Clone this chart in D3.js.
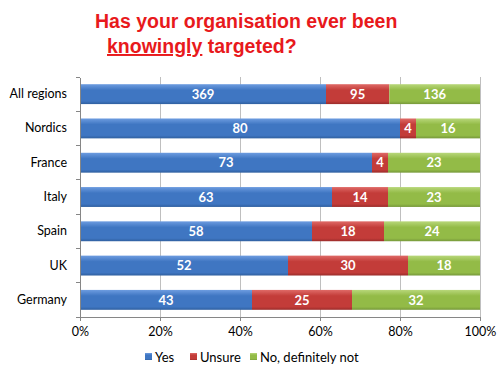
<!DOCTYPE html>
<html>
<head>
<meta charset="utf-8">
<script src="https://cdn.jsdelivr.net/npm/d3@7"></script>
<style>
  body { margin: 0; background: #fff; }
  svg { display: block; }
</style>
</head>
<body>
<div id="chart"></div>
<script>
var regions = ["All regions", "Nordics", "France", "Italy", "Spain", "UK", "Germany"];
var yesValues = [369, 80, 73, 63, 58, 52, 43];
var unsureValues = [95, 4, 4, 14, 18, 30, 25];
var noValues = [136, 16, 23, 23, 24, 18, 32];
var seriesNames = ["Yes", "Unsure", "No, definitely not"];
var tickLabels = ["0%", "20%", "40%", "60%", "80%", "100%"];

var W = 503, H = 374;
var margin = { top: 77, right: 23, bottom: 57, left: 80 };
var width = W - margin.left - margin.right;
var height = H - margin.top - margin.bottom;

var colors = {
    "Yes": ["#6d9ce0", "#3f76c2", "#2f5f9f"],
    "Unsure": ["#df6a67", "#c33c39", "#9a2c2a"],
    "No, definitely not": ["#b8d77a", "#93bb47", "#76983a"]
};

var rows = regions.map(function (r, i) {
    return { region: r, "Yes": yesValues[i], "Unsure": unsureValues[i], "No, definitely not": noValues[i] };
});

var svg = d3.select("#chart").append("svg")
    .attr("width", W)
    .attr("height", H);

var defs = svg.append("defs");
seriesNames.forEach(function (s, i) {
    var g = defs.append("linearGradient")
        .attr("id", "grad" + i)
        .attr("x1", 0).attr("y1", 0).attr("x2", 0).attr("y2", 1);
    g.append("stop").attr("offset", "0%").attr("stop-color", colors[s][0]);
    g.append("stop").attr("offset", "30%").attr("stop-color", colors[s][1]);
    g.append("stop").attr("offset", "85%").attr("stop-color", colors[s][1]);
    g.append("stop").attr("offset", "100%").attr("stop-color", colors[s][2]);
});

// title
var title = svg.append("text")
    .attr("font-family", "Liberation Sans, Arial, sans-serif")
    .attr("font-weight", "bold")
    .attr("font-size", 19.5)
    .attr("fill", "#e8191c");
title.append("tspan").attr("x", 95).attr("y", 28).text("Has your organisation ever been");
title.append("tspan").attr("x", 107).attr("y", 53)
    .attr("text-decoration", "underline").text("knowingly");
title.append("tspan").text(" targeted?");

var g = svg.append("g")
    .attr("transform", "translate(" + margin.left + "," + margin.top + ")");

var x = d3.scaleLinear().domain([0, 1]).range([0, width]);
var y = d3.scaleBand().domain(regions).range([0, height]).paddingInner(0.42).paddingOuter(0.21);

// gridlines
g.append("g")
    .selectAll("line")
    .data(d3.range(1, 6).map(function (d) { return d / 5; }))
    .enter().append("line")
    .attr("x1", function (d) { return x(d); })
    .attr("x2", function (d) { return x(d); })
    .attr("y1", 0)
    .attr("y2", height)
    .attr("stroke", "#bfbfbf")
    .attr("stroke-width", 1)
    .attr("shape-rendering", "crispEdges");

var stack = d3.stack().keys(seriesNames).offset(d3.stackOffsetExpand);
var stacked = stack(rows);

var layer = g.selectAll(".layer")
    .data(stacked)
    .enter().append("g")
    .attr("class", "layer")
    .attr("fill", function (d, i) { return "url(#grad" + i + ")"; });

layer.selectAll("rect")
    .data(function (d) { return d; })
    .enter().append("rect")
    .attr("x", function (d) { return x(d[0]); })
    .attr("y", function (d) { return y(d.data.region); })
    .attr("width", function (d) { return x(d[1]) - x(d[0]); })
    .attr("height", y.bandwidth());

layer.each(function (s) {
    d3.select(this).selectAll("text")
        .data(s)
        .enter().append("text")
        .attr("x", function (d) { return (x(d[0]) + x(d[1])) / 2; })
        .attr("y", function (d) { return y(d.data.region) + y.bandwidth() / 2; })
        .attr("dy", "0.36em")
        .attr("text-anchor", "middle")
        .attr("font-family", "Lato, Open Sans, sans-serif")
        .attr("font-weight", "bold")
        .attr("font-size", 13)
        .attr("fill", "#fff")
        .text(function (d) { return d.data[s.key]; });
});

// axes
var xAxis = d3.axisBottom(x)
    .tickValues([0, 0.2, 0.4, 0.6, 0.8, 1])
    .tickFormat(function (d, i) { return tickLabels[i]; })
    .tickSize(4)
    .tickPadding(6);
var gx = g.append("g")
    .attr("transform", "translate(0," + height + ")")
    .call(xAxis);

var yAxis = d3.axisLeft(y).tickSize(0).tickPadding(13);
var gy = g.append("g").call(yAxis);

// y tick marks between categories
g.append("g")
    .selectAll("line")
    .data(d3.range(0, regions.length + 1))
    .enter().append("line")
    .attr("x1", -4).attr("x2", 0)
    .attr("y1", function (i) { return i * y.step() ; })
    .attr("y2", function (i) { return i * y.step() ; })
    .attr("stroke", "#868686")
    .attr("shape-rendering", "crispEdges");

[gx, gy].forEach(function (a) {
    a.select(".domain").attr("stroke", "#868686").attr("shape-rendering", "crispEdges");
    a.selectAll(".tick line").attr("stroke", "#868686").attr("shape-rendering", "crispEdges");
    a.selectAll("text")
        .attr("font-family", "Lato, Open Sans, sans-serif")
        .attr("font-size", 12.5)
        .attr("fill", "#000");
});

// legend
var legendX = [145, 190, 250];
var legend = svg.append("g").attr("transform", "translate(0,357)");
seriesNames.forEach(function (s, i) {
    legend.append("rect")
        .attr("x", legendX[i]).attr("y", -4)
        .attr("width", 7).attr("height", 7)
        .attr("fill", "url(#grad" + i + ")");
    legend.append("text")
        .attr("x", legendX[i] + 10)
        .attr("y", 0)
        .attr("dy", "0.36em")
        .attr("font-family", "Lato, Open Sans, sans-serif")
        .attr("font-size", 13)
        .attr("fill", "#000")
        .text(s);
});
</script>
</body>
</html>
